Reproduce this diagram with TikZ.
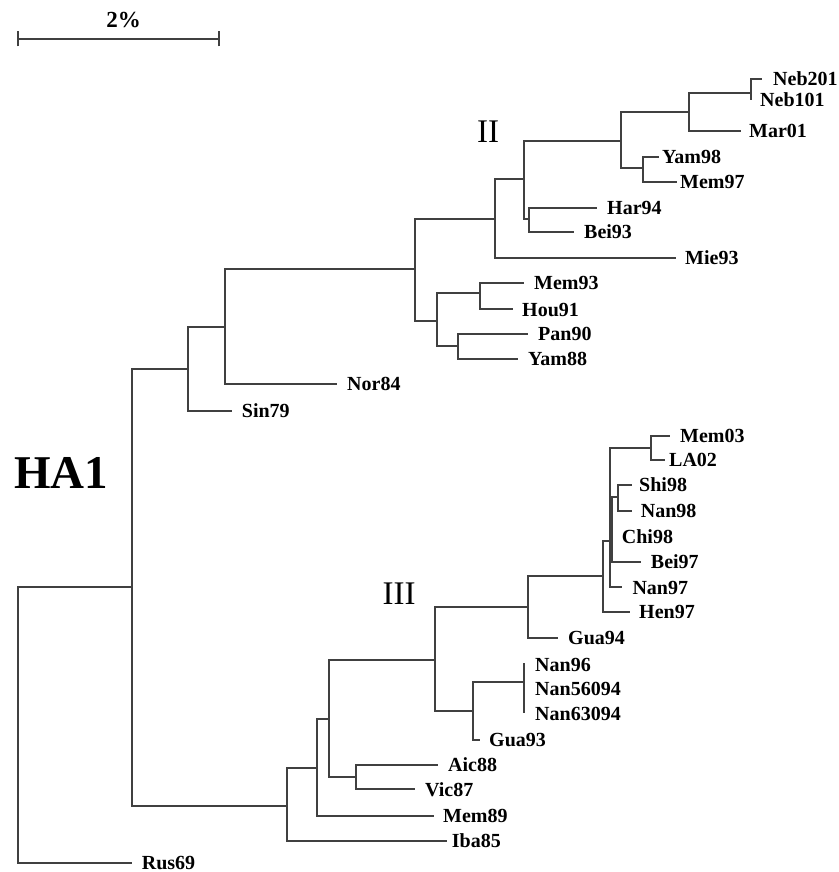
\documentclass[tikz,border=0pt]{standalone}
\usepackage{fontspec}
\setmainfont{Liberation Serif}
\begin{document}
\begin{tikzpicture}[x=1pt,y=-1pt,
  branch/.style={draw=black!75, line width=1.9pt},
  leaf/.style={anchor=west, inner sep=0pt, text height=13.5pt, text depth=0pt,
    font=\fontsize{20}{20}\selectfont\bfseries},
  clade/.style={inner sep=0pt, font=\fontsize{33}{33}\selectfont},
]
\useasboundingbox (0,0) rectangle (838,872);

% ---------- scale bar ----------
\coordinate (sbL) at (18.3,39);
\coordinate (sbR) at (219,39);
\draw[branch] (sbL) -- (sbR);
\draw[branch] ([yshift=-7.5pt]sbL) -- ([yshift=7.5pt]sbL);
\draw[branch] ([yshift=-7.5pt]sbR) -- ([yshift=7.5pt]sbR);
\node[inner sep=0pt, font=\fontsize{23}{23}\selectfont\bfseries] (sblabel) at (123.5,20.5) {2\%};

% ---------- titles ----------
\node[inner sep=0pt, font=\fontsize{47}{47}\selectfont\bfseries] (title) at (61,473) {HA1};
\node[clade] (cladeII) at (488,132) {II};
\node[clade] (cladeIII) at (399,594) {III};

% ---------- internal nodes ----------
\coordinate (root) at (18.3,725);
\coordinate (A) at (132.3,586.7);
\coordinate (B) at (187.7,369.3);
\coordinate (C) at (225,326.7);
\coordinate (D) at (415,269.3);
\coordinate (E) at (436.7,320.7);
\coordinate (F) at (495,219);
\coordinate (G) at (524,179);
\coordinate (H) at (529.3,219.3);
\coordinate (I) at (621,141);
\coordinate (J) at (643,168);
\coordinate (K) at (689,112);
\coordinate (L) at (751,93.3);
\coordinate (M) at (480,293.3);
\coordinate (N) at (457.7,346);
\coordinate (AA) at (286.7,805.7);
\coordinate (Z) at (317.3,767.7);
\coordinate (X) at (329.3,719.3);
\coordinate (Y) at (356,776.7);
\coordinate (U) at (435,660);
\coordinate (V) at (472.7,710.7);
\coordinate (W) at (524,681.7);
\coordinate (P) at (528.3,607.3);
\coordinate (O) at (603.3,575.7);
\coordinate (Q) at (610,540.7);
\coordinate (R) at (612.3,528);
\coordinate (S) at (618.3,497.3);
\coordinate (T) at (650.7,447.7);

% ---------- tips ----------
\coordinate (tRus69) at (131.7,863);
\coordinate (tSin79) at (231.7,410.7);
\coordinate (tNor84) at (336.7,384);
\coordinate (tMie93) at (676,258);
\coordinate (tHar94) at (596.7,208);
\coordinate (tBei93) at (574,231.7);
\coordinate (tYam98) at (659,156.7);
\coordinate (tMem97) at (677,181.7);
\coordinate (tMar01) at (741,131);
\coordinate (tNeb201) at (762,79);
\coordinate (tNeb101) at (751,100);
\coordinate (tMem93) at (524,283);
\coordinate (tHou91) at (513,309.3);
\coordinate (tPan90) at (528,334);
\coordinate (tYam88) at (518,359);
\coordinate (tIba85) at (446.7,841);
\coordinate (tMem89) at (434,816);
\coordinate (tAic88) at (438,765);
\coordinate (tVic87) at (415,789.3);
\coordinate (tGua93) at (480,740);
\coordinate (tNan96) at (524,663);
\coordinate (tNan56094) at (524,688);
\coordinate (tNan63094) at (524,713);
\coordinate (tGua94) at (558,637.7);
\coordinate (tHen97) at (630,611.7);
\coordinate (tNan97) at (621.7,587.3);
\coordinate (tChi98) at (612.3,536.7);
\coordinate (tBei97) at (640.7,561.7);
\coordinate (tShi98) at (631.7,485);
\coordinate (tNan98) at (631.7,510.7);
\coordinate (tMem03) at (670,436);
\coordinate (tLA02) at (665,460);

% ---------- branches ----------
\draw[branch] (root) |- (A)  (root) |- (tRus69);
\draw[branch] (A) |- (B)  (A) |- (AA);
\draw[branch] (B) |- (C)  (B) |- (tSin79);
\draw[branch] (C) |- (D)  (C) |- (tNor84);
\draw[branch] (D) |- (F)  (D) |- (E);
\draw[branch] (F) |- (G)  (F) |- (tMie93);
\draw[branch] (G) |- (I)  (G) |- (H);
\draw[branch] (H) |- (tHar94)  (H) |- (tBei93);
\draw[branch] (I) |- (K)  (I) |- (J);
\draw[branch] (J) |- (tYam98)  (J) |- (tMem97);
\draw[branch] (K) |- (L)  (K) |- (tMar01);
\draw[branch] (L) |- (tNeb201)  (L) |- (tNeb101);
\draw[branch] (E) |- (M)  (E) |- (N);
\draw[branch] (M) |- (tMem93)  (M) |- (tHou91);
\draw[branch] (N) |- (tPan90)  (N) |- (tYam88);
\draw[branch] (AA) |- (Z)  (AA) |- (tIba85);
\draw[branch] (Z) |- (X)  (Z) |- (tMem89);
\draw[branch] (X) |- (U)  (X) |- (Y);
\draw[branch] (Y) |- (tAic88)  (Y) |- (tVic87);
\draw[branch] (U) |- (P)  (U) |- (V);
\draw[branch] (V) |- (W)  (V) |- (tGua93);
\draw[branch] (W) |- (tNan96)  (W) |- (tNan56094)  (W) |- (tNan63094);
\draw[branch] (P) |- (O)  (P) |- (tGua94);
\draw[branch] (O) |- (Q)  (O) |- (tHen97);
\draw[branch] (Q) |- (T)  (Q) |- (R)  (Q) |- (tNan97);
\draw[branch] (R) |- (S)  (R) |- (tChi98)  (R) |- (tBei97);
\draw[branch] (S) |- (tShi98)  (S) |- (tNan98);
\draw[branch] (T) |- (tMem03)  (T) |- (tLA02);

% ---------- leaf labels ----------
\node[leaf] (Rus69) at (141.7,862.5) {Rus69};
\node[leaf] (Sin79) at (241.7,410.7) {Sin79};
\node[leaf] (Nor84) at (347,384) {Nor84};
\node[leaf] (Mie93) at (685,258) {Mie93};
\node[leaf] (Har94) at (607,208) {Har94};
\node[leaf] (Bei93) at (584,231.7) {Bei93};
\node[leaf] (Yam98) at (662,156.7) {Yam98};
\node[leaf] (Mem97) at (680,181.7) {Mem97};
\node[leaf] (Mar01) at (749,131) {Mar01};
\node[leaf] (Neb201) at (773,79) {Neb201};
\node[leaf] (Neb101) at (760,100) {Neb101};
\node[leaf] (Mem93) at (534,283) {Mem93};
\node[leaf] (Hou91) at (522,309.3) {Hou91};
\node[leaf] (Pan90) at (538,334) {Pan90};
\node[leaf] (Yam88) at (528,359) {Yam88};
\node[leaf] (Iba85) at (451.7,841) {Iba85};
\node[leaf] (Mem89) at (443,816) {Mem89};
\node[leaf] (Aic88) at (448,765) {Aic88};
\node[leaf] (Vic87) at (425,789.3) {Vic87};
\node[leaf] (Gua93) at (489,740) {Gua93};
\node[leaf] (Nan96) at (535,665) {Nan96};
\node[leaf] (Nan56094) at (535,688.3) {Nan56094};
\node[leaf] (Nan63094) at (535,713.3) {Nan63094};
\node[leaf] (Gua94) at (568,637.7) {Gua94};
\node[leaf] (Hen97) at (639,611.7) {Hen97};
\node[leaf] (Nan97) at (632.3,587.3) {Nan97};
\node[leaf] (Chi98) at (621.7,536.7) {Chi98};
\node[leaf] (Bei97) at (650.7,561.7) {Bei97};
\node[leaf] (Shi98) at (639,485) {Shi98};
\node[leaf] (Nan98) at (640.7,510.7) {Nan98};
\node[leaf] (Mem03) at (680,436) {Mem03};
\node[leaf] (LA02) at (669,460) {LA02};
\end{tikzpicture}
\end{document}
